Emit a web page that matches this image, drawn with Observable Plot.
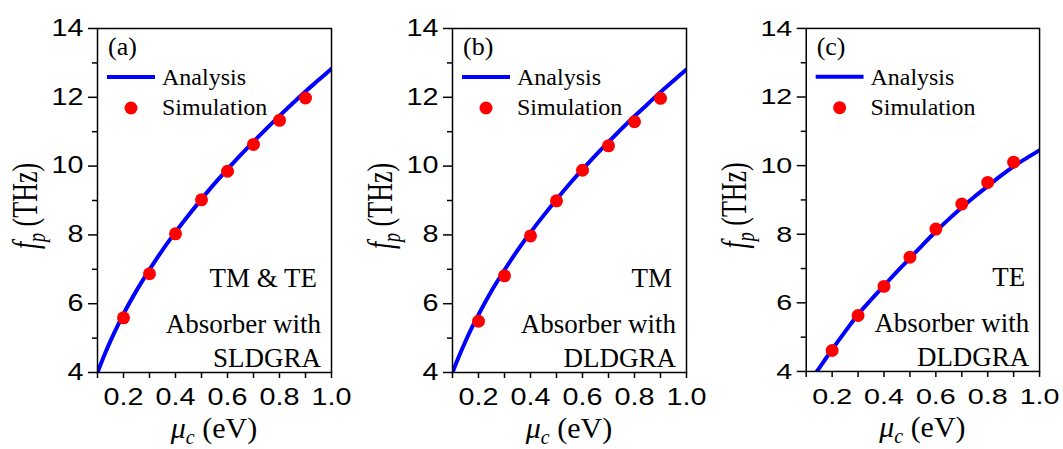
<!DOCTYPE html>
<html>
<head>
<meta charset="utf-8">
<script src="https://cdn.jsdelivr.net/npm/d3@7"></script>
<script src="https://cdn.jsdelivr.net/npm/@observablehq/plot@0.6"></script>
<style>
  html, body { margin: 0; padding: 0; background: #fff; overflow: hidden; width: 1063px; height: 449px; }
  .panel { position: absolute; top: 0; }
  .serif { font-family: "Liberation Serif", "Times New Roman", "DejaVu Serif", serif; }
</style>
</head>
<body>
<div id="p0" class="panel" style="left:0px"></div>
<div id="p1" class="panel" style="left:355px"></div>
<div id="p2" class="panel" style="left:709px"></div>
<script>
// ---------- data ----------
const panelLabels = ["(a)", "(b)", "(c)"];
const modeLabels = ["TM & TE", "TM", "TE"];
const structureLine1 = ["Absorber with", "Absorber with", "Absorber with"];
const structureLine2 = ["SLDGRA", "DLDGRA", "DLDGRA"];
const legendLabels = ["Analysis", "Simulation"];

const simMu = [0.2, 0.3, 0.4, 0.5, 0.6, 0.7, 0.8, 0.9];
const simA = [5.59, 6.87, 8.03, 9.02, 9.85, 10.63, 11.33, 11.98];
const simB = [5.49, 6.81, 7.97, 8.99, 9.88, 10.59, 11.29, 11.97];
const simC = [4.61, 5.63, 6.48, 7.33, 8.15, 8.88, 9.51, 10.10];

const anaMuA = [0.1, 0.125, 0.15, 0.175, 0.2, 0.25, 0.3, 0.35, 0.4, 0.45, 0.5, 0.55, 0.6, 0.65, 0.7, 0.75, 0.8, 0.85, 0.9, 0.95, 1.0];
const anaA   = [4.00, 4.48, 4.92, 5.32, 5.70, 6.38, 6.99, 7.56, 8.08, 8.57, 9.04, 9.49, 9.91, 10.32, 10.71, 11.09, 11.46, 11.82, 12.17, 12.50, 12.83];
const anaMuB = [0.1, 0.125, 0.15, 0.175, 0.2, 0.25, 0.3, 0.35, 0.4, 0.45, 0.5, 0.55, 0.6, 0.65, 0.7, 0.75, 0.8, 0.85, 0.9, 0.95, 1.0];
const anaB   = [4.00, 4.47, 4.91, 5.31, 5.68, 6.37, 6.98, 7.55, 8.07, 8.56, 9.03, 9.48, 9.90, 10.31, 10.70, 11.08, 11.45, 11.80, 12.15, 12.48, 12.81];
const anaMuC = [0.141, 0.15, 0.175, 0.2, 0.25, 0.3, 0.35, 0.4, 0.45, 0.5, 0.55, 0.6, 0.65, 0.7, 0.75, 0.8, 0.85, 0.9, 0.95, 1.0];
const anaC   = [4.00, 4.10, 4.37, 4.64, 5.16, 5.66, 6.09, 6.50, 6.91, 7.30, 7.70, 8.08, 8.44, 8.78, 9.10, 9.40, 9.70, 9.98, 10.22, 10.45];

const xTicks = [0.1, 0.2, 0.3, 0.4, 0.5, 0.6, 0.7, 0.8, 0.9, 1.0];
const xTickLabels = ["", "0.2", "", "0.4", "", "0.6", "", "0.8", "", "1.0"];
const yMajorTicks = [4, 6, 8, 10, 12, 14];
const yMinorTicks = [5, 7, 9, 11, 13];
const xDomain = [0.1, 1.0];
const yDomain = [4, 14];

const sims = [simA, simB, simC];
const anaMus = [anaMuA, anaMuB, anaMuC];
const anas = [anaA, anaB, anaC];

const SERIF = '"Liberation Serif", "Times New Roman", "DejaVu Serif", serif';
const SANS = '"Liberation Sans", Arial, sans-serif';
const BLUE = "#0000ff", RED = "#ff0000";

function panel(i) {
  const anaData = anaMus[i].map((m, j) => ({mu: m, f: anas[i][j]}));
  const simData = simMu.map((m, j) => ({mu: m, f: sims[i][j]}));
  const svg = Plot.plot({
    width: 355, height: 449,
    marginLeft: 97, marginRight: 24, marginTop: 28, marginBottom: 77,
    style: {fontFamily: SANS, fontSize: "23px", color: "#000", background: "transparent", overflow: "visible"},
    x: {domain: xDomain},
    y: {domain: yDomain},
    marks: [
      Plot.axisX({ticks: xTicks, tickSize: 6, tickPadding: 10, strokeWidth: 1.5,
        tickFormat: d => xTickLabels[xTicks.indexOf(d)], label: null}),
      Plot.axisY({ticks: yMajorTicks, tickSize: 9, tickPadding: 5, strokeWidth: 1.5, label: null}),
      Plot.axisY({ticks: yMinorTicks, tickSize: 5, strokeWidth: 1.5, tickFormat: () => "", label: null}),
      Plot.line(anaData, {x: "mu", y: "f", stroke: BLUE, strokeWidth: 4, curve: "monotone-x", clip: true}),
      Plot.dot(simData, {x: "mu", y: "f", r: 6.5, fill: RED}),
      Plot.frame({stroke: "#000", strokeWidth: 1.5})
    ]
  });

  const s = d3.select(svg);
  // widen tick labels like the reference
  s.selectAll('g[aria-label="x-axis tick label"] text, g[aria-label="y-axis tick label"] text').each(function() {
    const t = this.getAttribute("transform");
    if (t && t.includes("translate")) this.setAttribute("transform", t + " scale(1.25,1)");
  });

  const xr = svg.scale("x").range, yr = svg.scale("y").range;
  const L = Math.min(...xr), R = Math.max(...xr), T = Math.min(...yr), B = Math.max(...yr);
  const cx = (L + R) / 2, cy = (T + B) / 2;

  const g = s.append("g").attr("class", "serif").style("font-family", SERIF).attr("fill", "#000");

  // x title
  const xt = g.append("text").attr("x", cx).attr("y", B + 66).style("text-anchor", "middle")
    .style("font-size", "30px");
  xt.append("tspan").style("font-style", "italic").text("μ");
  xt.append("tspan").style("font-style", "italic").style("font-size", "20px").attr("dy", 6).text("c");
  xt.append("tspan").attr("dy", -6).text(" (eV)");

  // y title
  const yt = g.append("text").attr("transform", `translate(37,${cy + 6}) rotate(-90) scale(1,1.35)`)
    .style("text-anchor", "middle").style("font-size", "26px");
  yt.append("tspan").style("font-style", "italic").text("f");
  yt.append("tspan").style("font-style", "italic").style("font-size", "18px").attr("dy", 6).text("p");
  yt.append("tspan").attr("dy", -6).text(" (THz)");

  // panel label
  g.append("text").attr("x", L + 11).attr("y", T + 27).style("text-anchor", "start").style("font-size", "26px").text(panelLabels[i]);
  // legend
  g.append("line").attr("x1", L + 10).attr("x2", L + 58).attr("y1", T + 49).attr("y2", T + 49)
    .attr("stroke", BLUE).attr("stroke-width", 4);
  g.append("text").attr("x", L + 65).attr("y", T + 57).style("text-anchor", "start").style("font-size", "24px").text(legendLabels[0]);
  g.append("circle").attr("cx", L + 34).attr("cy", T + 80).attr("r", 6.5).attr("fill", RED);
  g.append("text").attr("x", L + 65).attr("y", T + 87).style("text-anchor", "start").style("font-size", "24px").text(legendLabels[1]);
  // annotations
  g.append("text").attr("x", R - 14).attr("y", B - 85).style("text-anchor", "end").style("font-size", "27px").text(modeLabels[i]);
  g.append("text").attr("x", R - 10).attr("y", B - 39).style("text-anchor", "end").style("font-size", "27px").text(structureLine1[i]);
  g.append("text").attr("x", R - 10).attr("y", B - 5).style("text-anchor", "end").style("font-size", "27px").text(structureLine2[i]);

  document.getElementById("p" + i).appendChild(svg);
}

[0, 1, 2].forEach(panel);
</script>
</body>
</html>
